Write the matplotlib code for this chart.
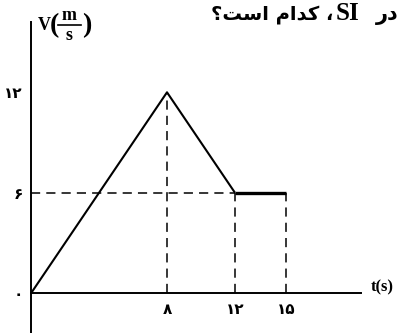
import matplotlib
matplotlib.use("Agg")
import matplotlib.pyplot as plt
from matplotlib.lines import Line2D

# velocity-time graph data
t_pts = [0, 8, 12, 15]
v_pts = [0, 12, 6, 6]
x_ticks = [8, 12, 15]
x_labels = ["۸", "۱۲", "۱۵"]
y_ticks = [0, 6, 12]
y_labels = ["۰", "۶", "۱۲"]

W, H = 400, 333
fig = plt.figure(figsize=(W / 100, H / 100), dpi=100)
ax = fig.add_axes([0, 0, 1, 1])

# pixel scale of the original drawing
sx, x0 = 17.0, 31.0
sy, y0 = 16.75, 293.3
ax.set_xlim(-x0 / sx, (W - x0) / sx)
ax.set_ylim(-(H - y0) / sy, y0 / sy)

lw = 1.5
# main curve: rising + falling part, then the flat part drawn thicker
ax.plot(t_pts[:3], v_pts[:3], color="black", lw=lw, solid_capstyle="butt")
ax.plot(t_pts[2:], v_pts[2:], color="black", lw=2.4, solid_capstyle="butt")

# dashed guide lines
dash = dict(color="black", lw=1.1, dashes=(6, 4))
ax.plot([t_pts[1], t_pts[1]], [0, v_pts[1]], **dash)
ax.plot([t_pts[2], t_pts[2]], [0, v_pts[2]], **dash)
ax.plot([t_pts[3], t_pts[3]], [0, v_pts[3]], **dash)
ax.plot([0, t_pts[2]], [v_pts[2], v_pts[2]], **dash)

# axes through the origin
for s in ["top", "right"]:
    ax.spines[s].set_visible(False)
ax.spines["left"].set_position(("data", 0))
ax.spines["bottom"].set_position(("data", 0))
ax.spines["left"].set_linewidth(1.4)
ax.spines["bottom"].set_linewidth(1.4)
ax.spines["bottom"].set_bounds(0, (361 - x0) / sx)
ax.spines["left"].set_bounds(-(H - y0) / sy, (y0 - 22) / sy)
ax.patch.set_visible(False)

ax.set_xticks(x_ticks)
ax.set_xticklabels(x_labels, fontsize=11, fontweight="bold", family="DejaVu Sans")
ax.set_yticks(y_ticks)
ax.set_yticklabels(y_labels, fontsize=11, fontweight="bold", family="DejaVu Sans")
ax.tick_params(axis="x", length=0, pad=6)
ax.tick_params(axis="y", length=0, pad=6)


def px(x, y):
    return x / W, 1 - y / H


# y axis title V(m/s), built from pieces
serif = dict(family="Liberation Serif", fontweight="bold", va="center")
fig.text(*px(38, 26), "V", fontsize=13, ha="left", **serif)
fig.text(*px(50, 26), "(", fontsize=20, ha="left", **serif)
fig.text(*px(69, 15), "m", fontsize=13, ha="center", **serif)
fig.text(*px(69, 36), "s", fontsize=13, ha="center", **serif)
fig.add_artist(Line2D([58 / W, 81 / W], [1 - 25 / H, 1 - 25 / H],
                      color="black", lw=1.2))
fig.text(*px(82, 26), ")", fontsize=20, ha="left", **serif)

fig.text(*px(371, 287), "t(s)", family="Liberation Serif",
         fontweight="bold", fontsize=12, ha="left", va="center")

# question text (visual order, presentation forms)
left_part = "؟" + "\uFE96\uFEB3\uFE8D" + " " + "\uFEE1\uFE8D\uFEAA\uFB90" + " " + "،"
fig.text(*px(333, 15), left_part, family="DejaVu Sans",
         fontweight="bold", fontsize=14, ha="right", va="center")
fig.text(*px(336, 14), "SI", family="Liberation Serif",
         fontweight="bold", fontsize=18, ha="left", va="center")
fig.text(*px(399, 15), "\uFEAD\uFEA9", family="DejaVu Sans",
         fontweight="bold", fontsize=15, ha="right", va="center")

fig.savefig("out.png", dpi=100)
